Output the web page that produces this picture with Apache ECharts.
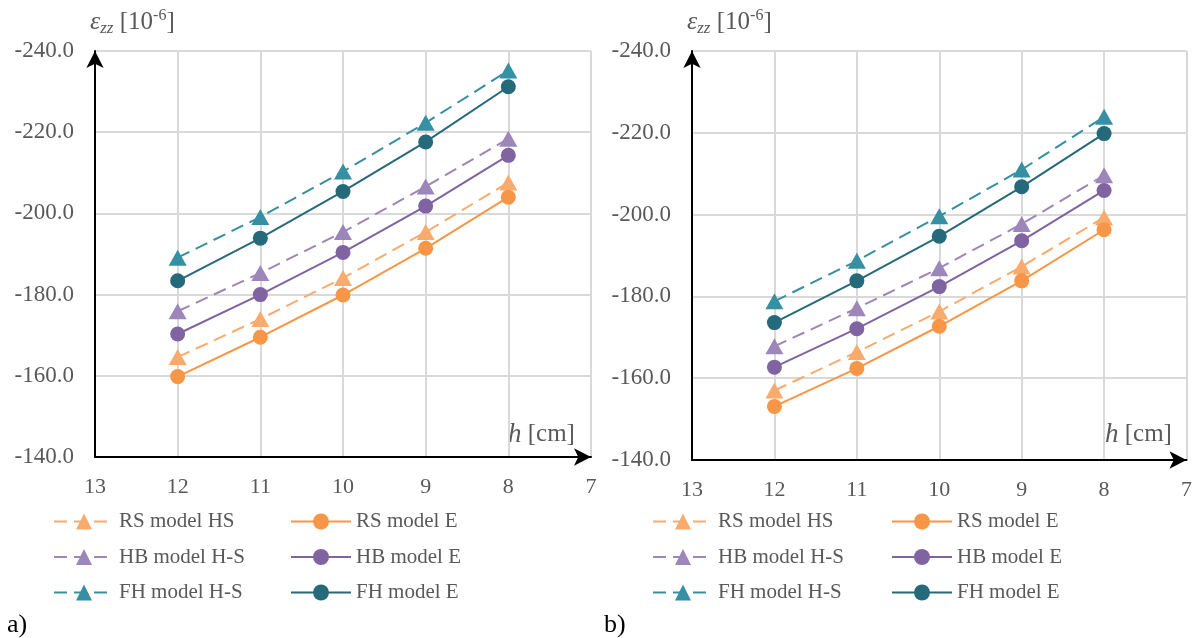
<!DOCTYPE html>
<html>
<head>
<meta charset="utf-8">
<script src="https://cdn.jsdelivr.net/npm/echarts@6/dist/echarts.min.js"></script>
<style>
  html, body { margin: 0; padding: 0; background: #fff; }
  #chart-container { width: 1195px; height: 638px; }
</style>
</head>
<body>
<div id="chart-container"></div>
<script>
var dom = document.getElementById("chart-container");
var myChart = echarts.init(dom, null, { renderer: "canvas" });

// thickness h [cm]
var hValues = [12, 11, 10, 9, 8];

// a) strain values, 10^-6
var a_rsHS = [-164.6, -174.0, -184.1, -195.4, -207.6];
var a_rsE  = [-159.8, -169.5, -179.9, -191.4, -204.0];
var a_hbHS = [-175.9, -185.3, -195.4, -206.6, -218.4];
var a_hbE  = [-170.3, -180.0, -190.4, -201.8, -214.3];
var a_fhHS = [-189.1, -199.1, -210.3, -222.3, -235.2];
var a_fhE  = [-183.4, -193.9, -205.4, -217.6, -231.2];

// b) strain values, 10^-6
var b_rsHS = [-157.0, -166.4, -176.3, -187.3, -199.3];
var b_rsE  = [-153.1, -162.4, -172.7, -183.8, -196.3];
var b_hbHS = [-167.8, -177.1, -186.9, -197.7, -209.6];
var b_hbE  = [-162.7, -172.1, -182.4, -193.6, -205.9];
var b_fhHS = [-178.8, -188.7, -199.6, -211.0, -223.9];
var b_fhE  = [-173.6, -183.8, -194.7, -206.8, -219.8];

var seriesNames = ["RS model HS", "RS model E", "HB model H-S", "HB model E", "FH model H-S", "FH model E"];
var seriesColors = ["#F9AB6E", "#F79646", "#9C86BA", "#8064A2", "#3690A4", "#256A7B"];

var FONT = "Liberation Serif";
var GRAY = "#595959";

function pairs(ys) {
  return hValues.map(function (h, i) { return [h, ys[i]]; });
}

function makeSeries(gridIdx, sets) {
  return sets.map(function (ys, i) {
    var dashed = i % 2 === 0;
    return {
      name: seriesNames[i],
      type: "line",
      xAxisIndex: gridIdx,
      yAxisIndex: gridIdx,
      data: pairs(ys),
      symbol: dashed ? "triangle" : "circle",
      symbolSize: dashed ? [18, 16] : 15,
      color: seriesColors[i],
      lineStyle: { width: 2, type: dashed ? [13, 7] : "solid", color: seriesColors[i] },
      itemStyle: { color: seriesColors[i] },
      z: dashed ? 2 : 3,
      animation: false
    };
  });
}

function xAxisCfg(gridIdx) {
  return {
    type: "value", gridIndex: gridIdx, min: 7, max: 13, interval: 1, inverse: true,
    axisLine: { lineStyle: { color: "#000", width: 2 }, symbol: ["none", "arrow"], symbolSize: [13, 17] },
    axisTick: { show: false },
    axisLabel: { color: GRAY, fontFamily: FONT, fontSize: 22, margin: 19 },
    splitLine: { show: true, lineStyle: { color: "#d9d9d9", width: 2 } }
  };
}

function yAxisCfg(gridIdx) {
  return {
    type: "value", gridIndex: gridIdx, min: -240, max: -140, interval: 20, inverse: true,
    axisLine: { show: true, lineStyle: { color: "#000", width: 2 }, symbol: ["none", "arrow"], symbolSize: [13, 17] },
    axisTick: { show: false },
    axisLabel: { color: GRAY, fontFamily: FONT, fontSize: 23, margin: 21,
      formatter: function (v) { return v.toFixed(1); } },
    splitLine: { show: true, lineStyle: { color: "#d9d9d9", width: 2 } }
  };
}

function legendCfg(left, names) {
  return {
    left: left, top: 511, orient: "vertical", padding: 0,
    data: names, itemWidth: 60, itemHeight: 20, itemGap: 14.5,
    textStyle: { color: GRAY, fontFamily: FONT, fontSize: 21, lineHeight: 20 },
    selectedMode: false
  };
}

var hsNames = [seriesNames[0], seriesNames[2], seriesNames[4]];
var eNames = [seriesNames[1], seriesNames[3], seriesNames[5]];

function yTitle(x) {
  return {
    type: "text", left: x, top: 8,
    style: {
      text: "{e|ε}{s|zz}{n| [10}{p|-6}{n|]}",
      rich: {
        e: { fontFamily: FONT, fontSize: 26, fontStyle: "italic", fill: GRAY },
        s: { fontFamily: FONT, fontSize: 17, fontStyle: "italic", fill: GRAY, verticalAlign: "bottom", padding: [12, 0, 0, 0] },
        n: { fontFamily: FONT, fontSize: 25, fill: GRAY },
        p: { fontFamily: FONT, fontSize: 16, fill: GRAY, verticalAlign: "top", padding: [0, 0, 12, 0] }
      }
    }
  };
}

function xTitle(x) {
  return {
    type: "text", left: x, top: 421,
    style: {
      text: "{h|h}{n| [cm]}",
      rich: {
        h: { fontFamily: FONT, fontSize: 27, fontStyle: "italic", fill: GRAY },
        n: { fontFamily: FONT, fontSize: 25, fill: GRAY }
      }
    }
  };
}

var option = {
  backgroundColor: "#fff",
  animation: false,
  grid: [
    { left: 95, top: 51, width: 496, height: 406 },
    { left: 692, top: 51, width: 496, height: 409 }
  ],
  xAxis: [xAxisCfg(0), xAxisCfg(1)],
  yAxis: [yAxisCfg(0), yAxisCfg(1)],
  legend: [
    legendCfg(53, hsNames), legendCfg(290, eNames),
    legendCfg(652, hsNames), legendCfg(891, eNames)
  ],
  graphic: [
    yTitle(90), yTitle(687),
    xTitle(508), xTitle(1105),
    { type: "text", left: 7, top: 612, style: { text: "a)", fontFamily: FONT, fontSize: 26, fill: "#000" } },
    { type: "text", left: 604, top: 612, style: { text: "b)", fontFamily: FONT, fontSize: 26, fill: "#000" } }
  ],
  series: makeSeries(0, [a_rsHS, a_rsE, a_hbHS, a_hbE, a_fhHS, a_fhE])
    .concat(makeSeries(1, [b_rsHS, b_rsE, b_hbHS, b_hbE, b_fhHS, b_fhE]))
};

myChart.setOption(option);
window.addEventListener("resize", myChart.resize);
</script>
</body>
</html>
